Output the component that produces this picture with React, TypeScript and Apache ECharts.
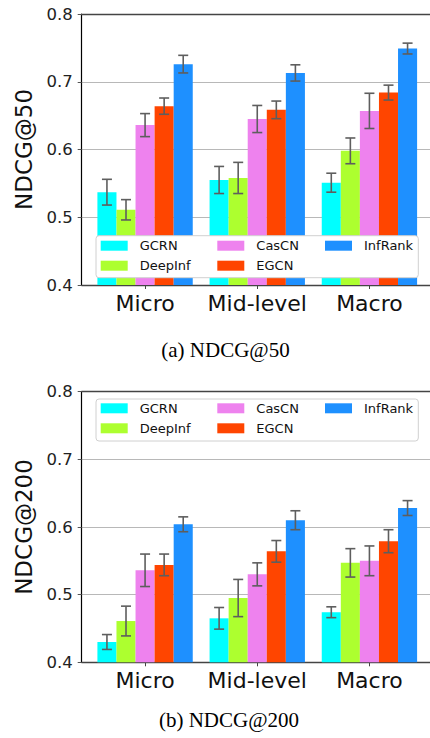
import { useEffect, useRef } from 'react';
import * as echarts from 'echarts';

const categories = ['Micro', 'Mid-level', 'Macro'];
const methods = ['GCRN', 'DeepInf', 'CasCN', 'EGCN', 'InfRank'];
const colors = ['#00FFFF', '#ADFF2F', '#EE82EE', '#FF4500', '#1E90FF'];

// NDCG@50 means and std
const n50GCRN = [0.537, 0.555, 0.551];
const n50DeepInf = [0.511, 0.558, 0.598];
const n50CasCN = [0.636, 0.645, 0.657];
const n50EGCN = [0.664, 0.6585, 0.684];
const n50InfRank = [0.726, 0.713, 0.749];
const e50GCRN = [0.019, 0.02, 0.014];
const e50DeepInf = [0.015, 0.023, 0.019];
const e50CasCN = [0.017, 0.02, 0.026];
const e50EGCN = [0.012, 0.013, 0.011];
const e50InfRank = [0.013, 0.012, 0.008];

// NDCG@200 means and std
const n200GCRN = [0.43, 0.465, 0.474];
const n200DeepInf = [0.461, 0.495, 0.547];
const n200CasCN = [0.536, 0.53, 0.55];
const n200EGCN = [0.544, 0.564, 0.579];
const n200InfRank = [0.604, 0.61, 0.628];
const e200GCRN = [0.011, 0.016, 0.008];
const e200DeepInf = [0.022, 0.0275, 0.021];
const e200CasCN = [0.024, 0.017, 0.022];
const e200EGCN = [0.016, 0.016, 0.017];
const e200InfRank = [0.011, 0.014, 0.011];

const panels = [
  {
    title: 'NDCG@50',
    caption: '(a) NDCG@50',
    means: [n50GCRN, n50DeepInf, n50CasCN, n50EGCN, n50InfRank],
    errs: [e50GCRN, e50DeepInf, e50CasCN, e50EGCN, e50InfRank],
  },
  {
    title: 'NDCG@200',
    caption: '(b) NDCG@200',
    means: [n200GCRN, n200DeepInf, n200CasCN, n200EGCN, n200InfRank],
    errs: [e200GCRN, e200DeepInf, e200CasCN, e200EGCN, e200InfRank],
  },
];

// layout
const SANS = '"DejaVu Sans", sans-serif';
const offsets = [-0.34, -0.17, 0, 0.17, 0.34];
const X_MIN = -0.565;
const X_MAX = 2.54;
const BAR_W = 19.07;
const gridBoxes = [
  { left: 81.7, top: 14, width: 348.3, height: 271 },
  { left: 81.7, top: 391.7, width: 348.3, height: 270.6 },
];
const legendTops = [239.2, 401.8];
const legendFrames = [
  { x: 96, y: 235.7, width: 322.3, height: 42 },
  { x: 96, y: 399, width: 322.3, height: 42 },
];
const captionPos = [
  { x: 225.5, y: 349.5 },
  { x: 229, y: 720 },
];
const legendCols = [
  { left: 100.7, names: ['GCRN', 'DeepInf'] },
  { left: 217.3, names: ['CasCN', 'EGCN'] },
  { left: 325, names: ['InfRank'] },
];

function buildOption() {
  const xAxis: any[] = [];
  const yAxis: any[] = [];
  const series: any[] = [];
  const legend: any[] = [];
  const graphic: any[] = [];

  panels.forEach((p, g) => {
    xAxis.push({
      type: 'value',
      gridIndex: g,
      min: X_MIN,
      max: X_MAX,
      position: 'bottom',
      axisLine: { show: true, onZero: false, lineStyle: { color: '#444', width: 1.3 } },
      axisTick: { show: true, customValues: [0, 1, 2], length: 4, lineStyle: { color: '#444', width: 1 } },
      axisLabel: {
        show: true,
        customValues: [0, 1, 2],
        formatter: (v: number) => categories[Math.round(v)],
        fontSize: 22,
        fontFamily: SANS,
        color: '#111',
        margin: 7,
      },
      splitLine: { show: false },
    });
    xAxis.push({
      type: 'value',
      gridIndex: g,
      min: X_MIN,
      max: X_MAX,
      position: 'top',
      axisLine: { show: true, onZero: false, lineStyle: { color: '#444', width: 1.3 } },
      axisTick: { show: false },
      axisLabel: { show: false },
      splitLine: { show: false },
    });
    yAxis.push({
      type: 'value',
      gridIndex: g,
      min: 0.4,
      max: 0.8,
      interval: 0.1,
      name: p.title,
      nameLocation: 'middle',
      nameRotate: 90,
      nameGap: 43,
      nameTextStyle: { fontSize: 23, fontFamily: SANS, color: '#111' },
      axisLine: { show: true, onZero: false, lineStyle: { color: '#000', width: 1.2 } },
      axisTick: { show: true, length: 4, lineStyle: { color: '#555', width: 1 } },
      axisLabel: {
        fontSize: 16.5,
        fontFamily: SANS,
        color: '#222',
        margin: 9,
        formatter: (v: number) => v.toFixed(1),
      },
      splitLine: { show: true, lineStyle: { color: '#b8b8b8', width: 1 } },
    });

    methods.forEach((m, i) => {
      series.push({
        type: 'bar',
        name: m,
        xAxisIndex: g * 2,
        yAxisIndex: g,
        barWidth: BAR_W,
        barGap: '-100%',
        itemStyle: { color: colors[i] },
        data: categories.map((_, j) => [j + offsets[i], p.means[i][j]]),
      });
    });

    const errData: number[][] = [];
    methods.forEach((_, i) => {
      categories.forEach((__, j) => {
        errData.push([j + offsets[i], p.means[i][j], p.errs[i][j]]);
      });
    });
    series.push({
      type: 'custom',
      name: 'err' + g,
      xAxisIndex: g * 2,
      yAxisIndex: g,
      z: 3,
      encode: { x: 0, y: 1 },
      data: errData,
      renderItem: (params: any, api: any) => {
        const x = api.value(0);
        const y = api.value(1);
        const e = api.value(2);
        const top = api.coord([x, y + e]);
        const bot = api.coord([x, y - e]);
        const hw = 5;
        const style = { stroke: '#5e5e5e', lineWidth: 1.6 };
        return {
          type: 'group',
          children: [
            { type: 'line', shape: { x1: top[0], y1: top[1], x2: bot[0], y2: bot[1] }, style },
            { type: 'line', shape: { x1: top[0] - hw, y1: top[1], x2: top[0] + hw, y2: top[1] }, style },
            { type: 'line', shape: { x1: bot[0] - hw, y1: bot[1], x2: bot[0] + hw, y2: bot[1] }, style },
          ],
        };
      },
    });

    legendCols.forEach((c) => {
      legend.push({
        orient: 'vertical',
        left: c.left,
        top: legendTops[g],
        padding: 0,
        itemGap: 7,
        itemWidth: 27,
        itemHeight: 10,
        icon: 'rect',
        selectedMode: false,
        z: 10,
        data: c.names,
        textStyle: { fontSize: 13, fontFamily: SANS, color: '#111', padding: [0, 0, 0, 7] },
      });
    });

    graphic.push({
      type: 'rect',
      z: 5,
      shape: { ...legendFrames[g], r: 3 },
      style: { fill: '#ffffff', stroke: '#d0d0d0', lineWidth: 1 },
    });
    graphic.push({
      type: 'text',
      z: 5,
      x: captionPos[g].x,
      y: captionPos[g].y,
      style: {
        text: p.caption,
        fontSize: 21,
        fontFamily: '"Liberation Serif", serif',
        fill: '#000',
        align: 'center',
        verticalAlign: 'middle',
      },
    });
  });

  return {
    animation: false,
    backgroundColor: '#ffffff',
    grid: gridBoxes.map((b) => ({ ...b, containLabel: false })),
    xAxis,
    yAxis,
    legend,
    series,
    graphic,
  };
}

export default function App() {
  const ref = useRef<HTMLDivElement>(null);
  useEffect(() => {
    if (!ref.current) return;
    const chart = echarts.init(ref.current, null, { renderer: 'svg' });
    chart.setOption(buildOption());
    return () => chart.dispose();
  }, []);
  return (
    <div
      ref={ref}
      style={{ position: 'fixed', left: 0, top: 0, width: 430, height: 738, background: '#fff' }}
    />
  );
}
